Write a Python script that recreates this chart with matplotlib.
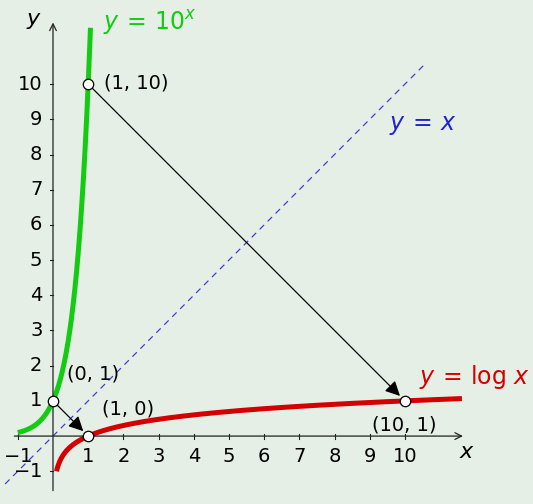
import numpy as np
import matplotlib
matplotlib.use("Agg")
import matplotlib.pyplot as plt

plt.rcParams['mathtext.fontset'] = 'dejavusans'

# Data
x_ticks = [-1, 1, 2, 3, 4, 5, 6, 7, 8, 9, 10]
y_ticks = [-1, 1, 2, 3, 4, 5, 6, 7, 8, 9, 10]
points = [(1, 10), (10, 1), (0, 1), (1, 0)]
point_labels = ["(1, 10)", "(10, 1)", "(0, 1)", "(1, 0)"]
arrows = [((1, 10), (10, 1)), ((0, 1), (1, 0))]

bg = "#e6efe6"
fig = plt.figure(figsize=(5.33, 5.04), dpi=100, facecolor=bg)
ax = fig.add_axes([0, 0, 1, 1])
ax.set_facecolor(bg)
ax.set_xlim(-1.506, 13.64)
ax.set_ylim(-1.93, 12.39)
ax.axis('off')

fs = 14

# axes with arrows
ax.annotate("", xy=(11.65, 0), xytext=(-1.1, 0),
            arrowprops=dict(arrowstyle="->", lw=0.9, color="#222222", shrinkA=0, shrinkB=0, mutation_scale=12))
ax.annotate("", xy=(0, 11.75), xytext=(0, -1.55),
            arrowprops=dict(arrowstyle="->", lw=0.9, color="#222222", shrinkA=0, shrinkB=0, mutation_scale=12))

# ticks
for t in x_ticks:
    ax.plot([t, t], [-0.07, 0.07], color="#222222", lw=0.8)
    ax.text(t, -0.32, "$-1$" if t == -1 else str(t), ha='center', va='top', fontsize=fs)
for t in y_ticks:
    ax.plot([-0.09, 0.0], [t, t], color="#222222", lw=0.8)
    if t == -1:
        ax.text(-0.3, t - 0.02, "$-1$", ha='right', va='center', fontsize=fs)
    else:
        ax.text(-0.3, t, str(t), ha='right', va='center', fontsize=fs)

ax.text(11.75, -0.45, "$x$", ha='center', va='center', fontsize=fs + 2)
ax.text(-0.55, 11.8, "$y$", ha='center', va='center', fontsize=fs + 2)

# curves
xg = np.linspace(-1, np.log10(11.6), 300)
ax.plot(xg, 10 ** xg, color="#11cc11", lw=3.6, solid_capstyle='butt')
xr = np.linspace(0.1, 11.62, 500)
ax.plot(xr, np.log10(xr), color="#d40000", lw=3.6, solid_capstyle='butt')
xb = np.array([-1.36, 10.6])
ax.plot(xb, xb, color="#4040dd", lw=0.9, dashes=(5, 4))

# labels of curves
ax.text(1.42, 11.75, "$y\\,=\\,10^x$", color="#11cc11", fontsize=fs + 3, ha='left', va='center')
ax.text(9.55, 8.83, "$y\\,=\\,x$", color="#2222cc", fontsize=fs + 3, ha='left', va='center')
ax.text(10.4, 1.68, r"$y\,=\,\log\, x$", color="#d40000", fontsize=fs + 3, ha='left', va='center')

# arrows between points
for (p0, p1) in arrows:
    ax.annotate("", xy=p1, xytext=p0,
                arrowprops=dict(arrowstyle="-|>", lw=0.9, color="black", shrinkA=4, shrinkB=5,
                                mutation_scale=22))

# points
for (px, py) in points:
    ax.plot(px, py, 'o', ms=7.5, mfc='white', mec='black', mew=0.9, zorder=5)

label_pos = {"(1, 10)": (1.45, 10.03, 'left'), "(10, 1)": (9.98, 0.32, 'center'),
             "(0, 1)": (0.4, 1.76, 'left'), "(1, 0)": (1.4, 0.78, 'left')}
for lab in point_labels:
    lx, ly, ha = label_pos[lab]
    ax.text(lx, ly, lab, fontsize=fs, ha=ha, va='center')

fig.savefig("out.png", dpi=100, facecolor=bg)
